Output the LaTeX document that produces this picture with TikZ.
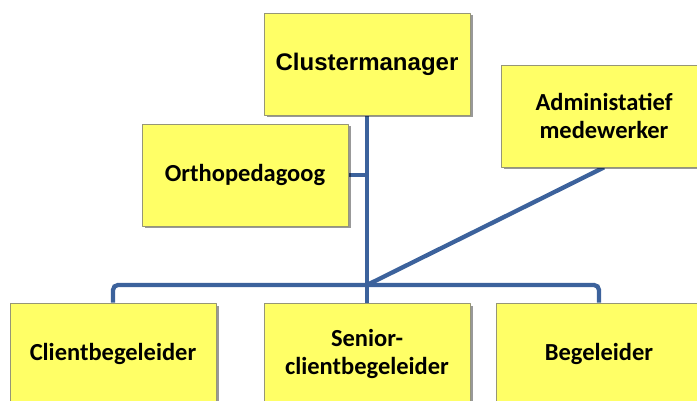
\documentclass[tikz,border=0pt]{standalone}
\usepackage{fontspec}
\setmainfont{Carlito}
\newfontfamily\headfont{Liberation Sans}
\usetikzlibrary{shadows,backgrounds}
\definecolor{boxyellow}{RGB}{255,255,102}
\definecolor{boxedge}{RGB}{150,150,118}
\definecolor{linkblue}{RGB}{60,98,156}

\begin{document}
\begin{tikzpicture}[x=1pt, y=-1pt,
                    line cap=round, line join=round,
                    role/.style={draw=boxedge, fill=boxyellow, line width=0.8pt,
                                 minimum width=206pt, minimum height=102pt,
                                 align=center, font=\fontsize{24.5}{28}\selectfont\bfseries,
                                 drop shadow={shadow xshift=2.5pt, shadow yshift=-2.5pt,
                                              opacity=0.4, fill=black}},
                    link/.style={draw=linkblue, line width=4.3pt}]
  \useasboundingbox (0,0) rectangle (697,401);
  \def\rowY{354}
  \def\barY{285}

  % boxes
  \node[role, font=\headfont\fontsize{24}{28}\selectfont\bfseries] (cm) at (367,64) {Clustermanager};
  \node[role] (op) at (245,175) {Orthopedagoog};
  \node[role] (adm) at (604,116) {Administatief\\medewerker};
  \node[role] (cb) at (113,\rowY) {Clientbegeleider};
  \node[role] (scb) at (367,\rowY) {Senior-\\clientbegeleider};
  \node[role] (bg) at (599,\rowY) {Begeleider};

  % connectors
  \coordinate (hub) at (cm.south |- 0,\barY);
  \begin{scope}[on background layer]
    \draw[link] (cm.south) -- (hub);
    \draw[link, rounded corners=5pt] (cb.north) |- (hub) -| (bg.north);
    \draw[link] (hub) -- (scb.north);
    \draw[link] (op.east) -- (op.east -| hub);
    \draw[link] (hub) -- (adm.south);
  \end{scope}

\end{tikzpicture}
\end{document}
